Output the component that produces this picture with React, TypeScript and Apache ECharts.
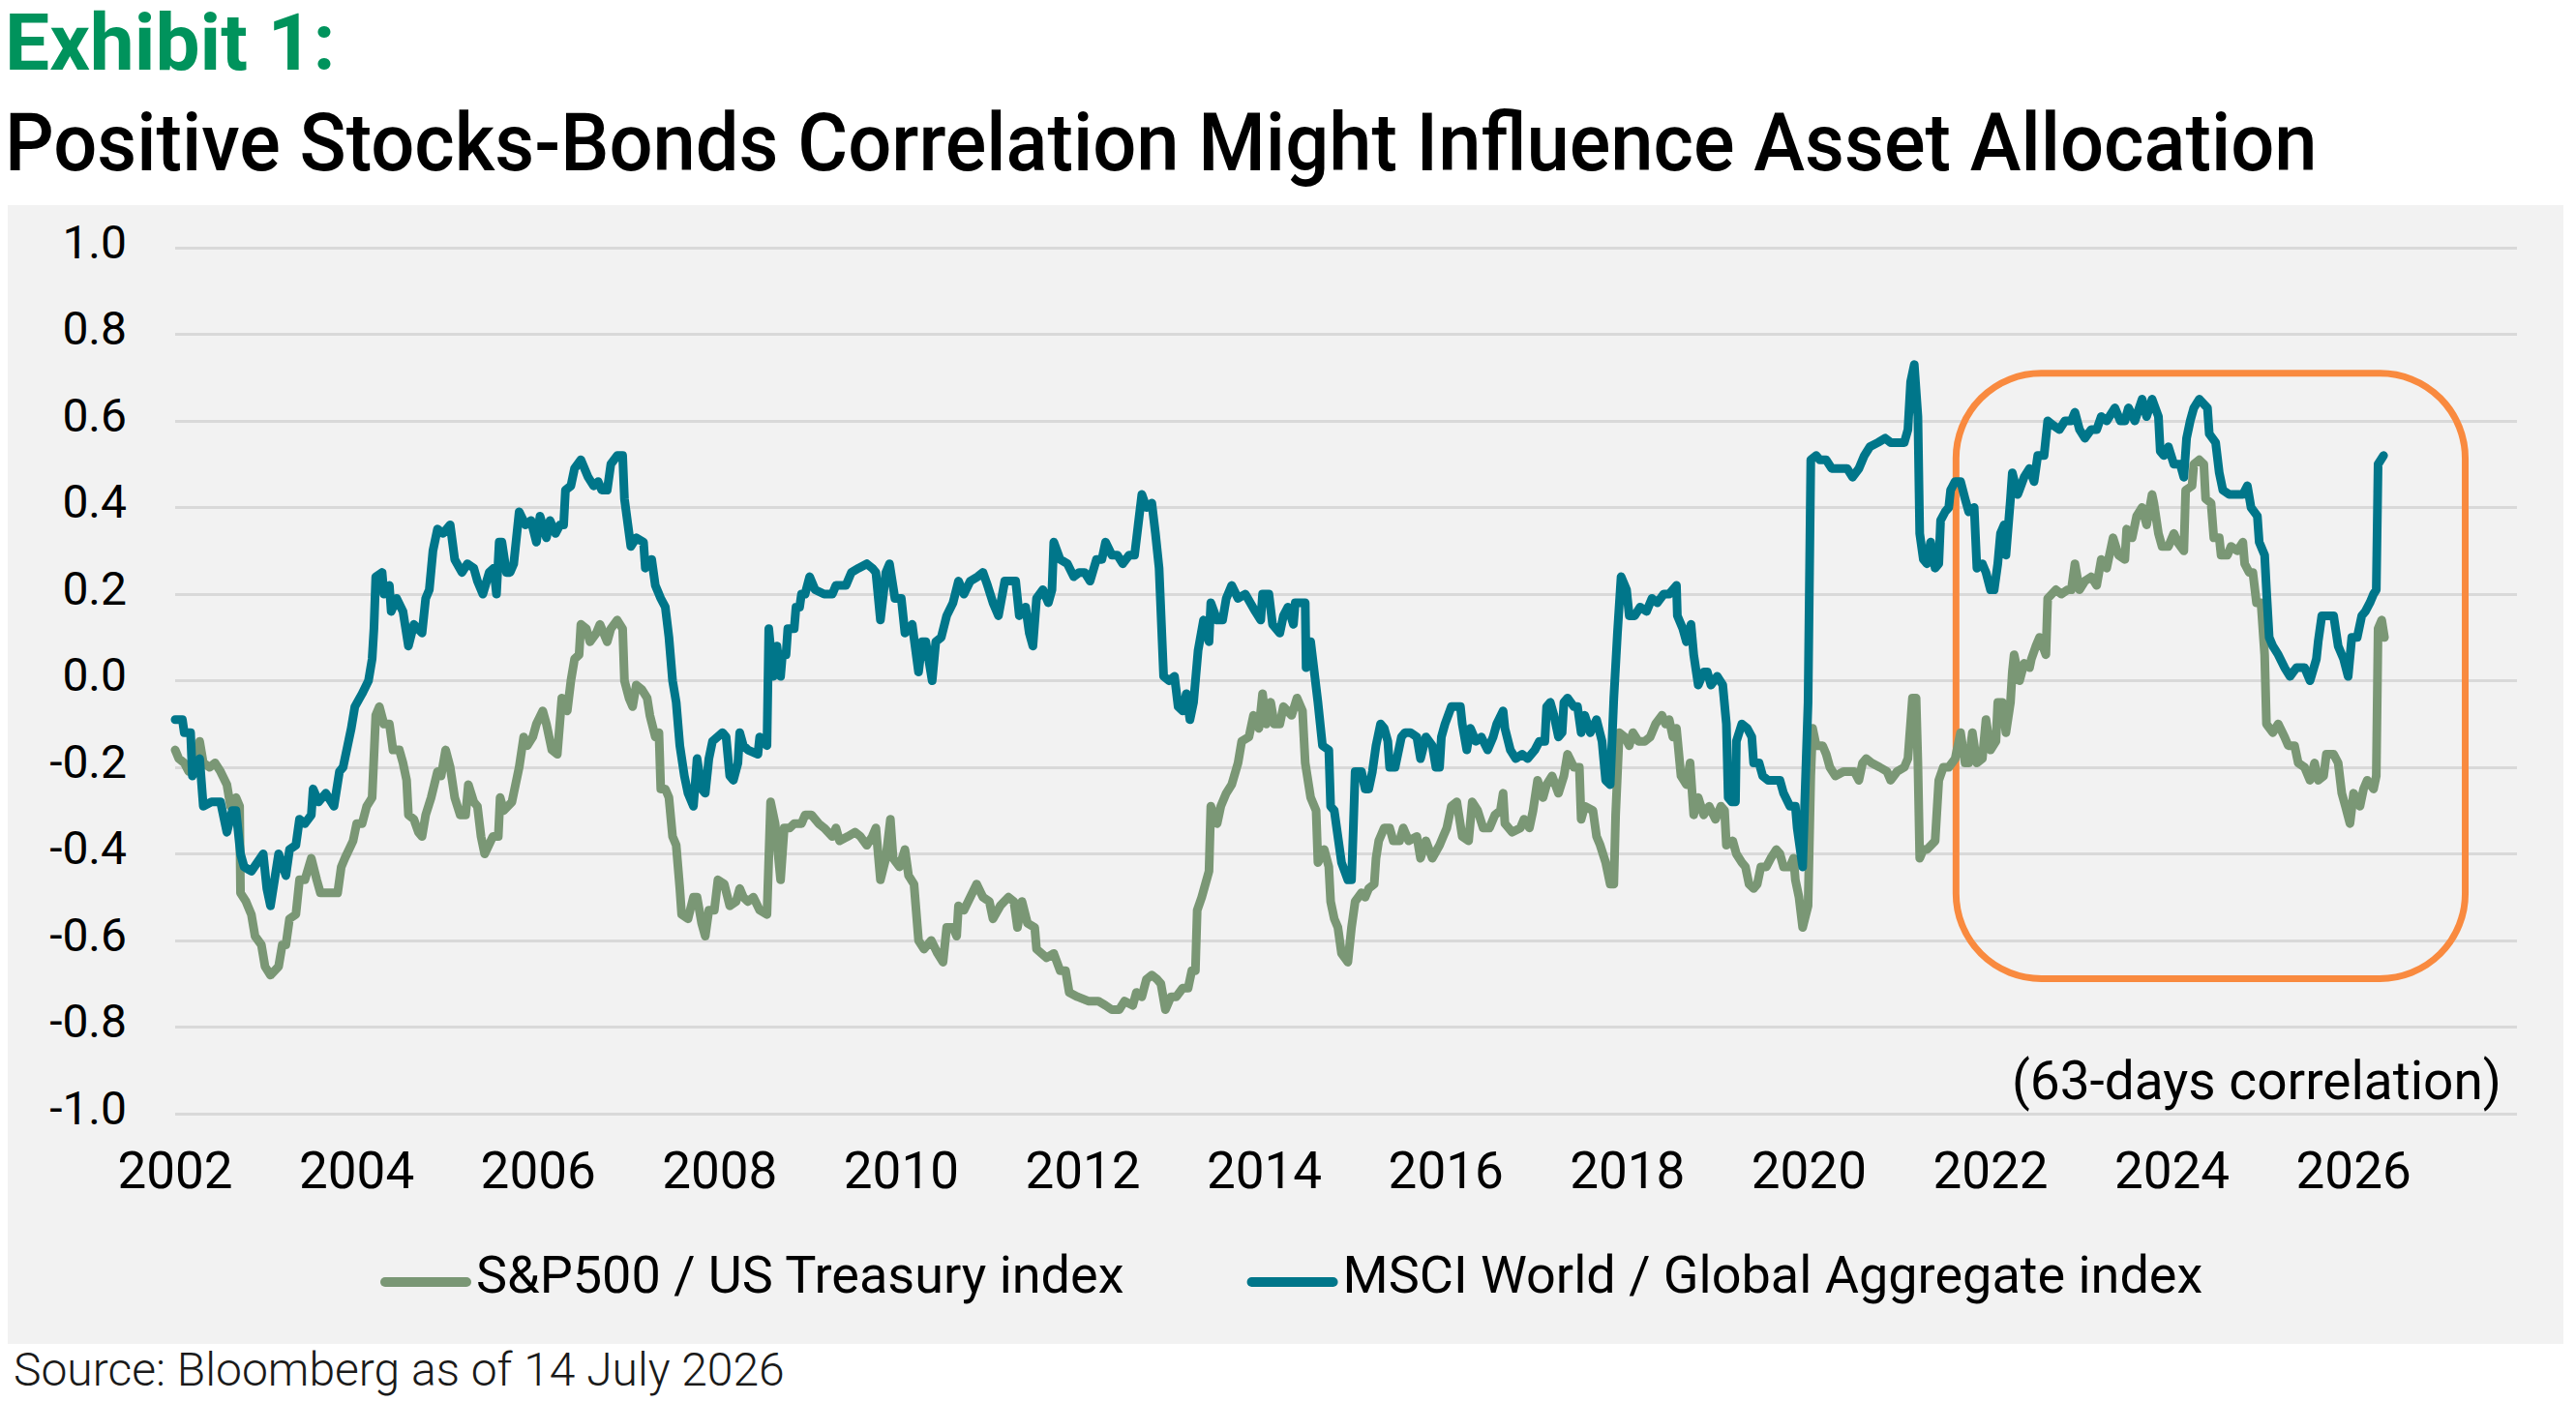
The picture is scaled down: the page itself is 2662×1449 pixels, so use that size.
import React, { useEffect, useRef } from "react";
import * as echarts from "echarts";

// ---- Data (decimal year, 63-day correlation) ----
const sp500TreasuryName = "S&P500 / US Treasury index";
const msciGlobalName = "MSCI World / Global Aggregate index";

const sp500TreasuryCorr: [number, number][] = [
[2002.00,-0.16],[2002.04,-0.18],[2002.10,-0.19],[2002.15,-0.21],[2002.21,-0.21],[2002.27,-0.14],[2002.31,-0.19],[2002.38,-0.20],[2002.44,-0.19],[2002.50,-0.21],[2002.57,-0.24],[2002.61,-0.29],[2002.67,-0.27],[2002.71,-0.29],[2002.72,-0.49],[2002.78,-0.51],[2002.84,-0.54],[2002.88,-0.59],[2002.95,-0.61],[2002.99,-0.66],[2003.05,-0.68],[2003.14,-0.66],[2003.18,-0.61],[2003.22,-0.61],[2003.26,-0.55],[2003.33,-0.54],[2003.37,-0.46],[2003.43,-0.46],[2003.50,-0.41],[2003.56,-0.46],[2003.60,-0.49],[2003.73,-0.49],[2003.79,-0.49],[2003.83,-0.43],[2003.87,-0.41],[2003.96,-0.37],[2004.00,-0.33],[2004.06,-0.33],[2004.11,-0.29],[2004.17,-0.27],[2004.21,-0.08],[2004.25,-0.06],[2004.30,-0.10],[2004.36,-0.10],[2004.40,-0.16],[2004.47,-0.16],[2004.51,-0.19],[2004.55,-0.23],[2004.57,-0.31],[2004.63,-0.32],[2004.68,-0.35],[2004.72,-0.36],[2004.76,-0.31],[2004.82,-0.27],[2004.89,-0.21],[2004.93,-0.22],[2004.98,-0.16],[2005.03,-0.20],[2005.08,-0.27],[2005.14,-0.31],[2005.20,-0.31],[2005.23,-0.24],[2005.29,-0.28],[2005.33,-0.29],[2005.37,-0.36],[2005.41,-0.40],[2005.50,-0.36],[2005.56,-0.36],[2005.58,-0.27],[2005.62,-0.30],[2005.71,-0.28],[2005.75,-0.24],[2005.79,-0.20],[2005.84,-0.13],[2005.88,-0.15],[2005.94,-0.13],[2005.98,-0.10],[2006.05,-0.07],[2006.09,-0.10],[2006.15,-0.16],[2006.21,-0.17],[2006.26,-0.04],[2006.32,-0.07],[2006.36,0.00],[2006.40,0.05],[2006.45,0.06],[2006.47,0.13],[2006.53,0.12],[2006.57,0.09],[2006.64,0.11],[2006.68,0.13],[2006.72,0.11],[2006.76,0.09],[2006.80,0.12],[2006.87,0.14],[2006.93,0.12],[2006.95,0.00],[2007.00,-0.04],[2007.04,-0.06],[2007.08,-0.01],[2007.14,-0.02],[2007.20,-0.04],[2007.23,-0.08],[2007.29,-0.13],[2007.33,-0.12],[2007.35,-0.25],[2007.40,-0.25],[2007.44,-0.27],[2007.48,-0.36],[2007.52,-0.38],[2007.56,-0.48],[2007.58,-0.54],[2007.65,-0.55],[2007.71,-0.50],[2007.75,-0.50],[2007.80,-0.56],[2007.84,-0.59],[2007.88,-0.53],[2007.94,-0.53],[2007.98,-0.46],[2008.05,-0.47],[2008.11,-0.52],[2008.18,-0.51],[2008.22,-0.48],[2008.26,-0.50],
[2008.31,-0.51],[2008.37,-0.50],[2008.44,-0.53],[2008.52,-0.54],[2008.56,-0.28],[2008.61,-0.33],[2008.67,-0.46],[2008.71,-0.34],[2008.77,-0.34],[2008.82,-0.33],[2008.90,-0.33],[2008.94,-0.31],[2009.01,-0.31],[2009.09,-0.33],[2009.15,-0.34],[2009.24,-0.36],[2009.28,-0.34],[2009.32,-0.37],[2009.41,-0.36],[2009.49,-0.35],[2009.55,-0.36],[2009.62,-0.38],[2009.68,-0.36],[2009.72,-0.34],[2009.77,-0.46],[2009.83,-0.41],[2009.88,-0.32],[2009.91,-0.41],[2009.98,-0.43],[2010.04,-0.39],[2010.08,-0.45],[2010.14,-0.47],[2010.19,-0.60],[2010.25,-0.62],[2010.33,-0.60],[2010.40,-0.63],[2010.46,-0.65],[2010.50,-0.57],[2010.57,-0.57],[2010.61,-0.59],[2010.63,-0.52],[2010.69,-0.53],[2010.76,-0.50],[2010.83,-0.47],[2010.90,-0.50],[2010.97,-0.51],[2011.01,-0.55],[2011.09,-0.52],[2011.18,-0.50],[2011.24,-0.51],[2011.28,-0.57],[2011.33,-0.51],[2011.39,-0.56],[2011.47,-0.57],[2011.49,-0.62],[2011.60,-0.64],[2011.68,-0.63],[2011.75,-0.67],[2011.81,-0.67],[2011.85,-0.72],[2011.94,-0.73],[2012.06,-0.74],[2012.17,-0.74],[2012.25,-0.75],[2012.32,-0.76],[2012.40,-0.76],[2012.46,-0.74],[2012.55,-0.75],[2012.59,-0.72],[2012.65,-0.73],[2012.70,-0.69],[2012.76,-0.68],[2012.82,-0.69],[2012.86,-0.70],[2012.91,-0.76],[2012.97,-0.73],[2013.03,-0.73],[2013.10,-0.71],[2013.16,-0.71],[2013.20,-0.67],[2013.24,-0.67],[2013.26,-0.53],[2013.31,-0.50],[2013.35,-0.47],[2013.39,-0.44],[2013.41,-0.29],[2013.48,-0.33],[2013.52,-0.29],[2013.58,-0.26],[2013.64,-0.24],[2013.71,-0.19],[2013.75,-0.14],[2013.83,-0.13],[2013.88,-0.08],[2013.94,-0.11],[2013.98,-0.03],[2014.02,-0.10],[2014.07,-0.05],[2014.11,-0.10],[2014.17,-0.10],[2014.21,-0.06],[2014.30,-0.08],[2014.36,-0.04],[2014.42,-0.07],[2014.45,-0.19],[2014.51,-0.27],[2014.57,-0.30],[2014.59,-0.42],[2014.66,-0.39],
[2014.71,-0.43],[2014.73,-0.51],[2014.77,-0.55],[2014.81,-0.57],[2014.85,-0.63],[2014.92,-0.65],[2014.96,-0.57],[2015.00,-0.51],[2015.07,-0.49],[2015.11,-0.50],[2015.15,-0.48],[2015.21,-0.47],[2015.23,-0.41],[2015.26,-0.37],[2015.32,-0.34],[2015.38,-0.34],[2015.42,-0.37],[2015.49,-0.37],[2015.53,-0.34],[2015.59,-0.37],[2015.68,-0.36],[2015.72,-0.41],[2015.78,-0.37],[2015.85,-0.41],[2015.93,-0.38],[2015.97,-0.36],[2016.01,-0.34],[2016.06,-0.29],[2016.12,-0.28],[2016.18,-0.36],[2016.25,-0.37],[2016.29,-0.28],[2016.35,-0.30],[2016.41,-0.34],[2016.48,-0.34],[2016.54,-0.31],[2016.60,-0.30],[2016.63,-0.26],[2016.65,-0.33],[2016.73,-0.35],[2016.82,-0.34],[2016.86,-0.32],[2016.92,-0.34],[2016.96,-0.30],[2017.01,-0.23],[2017.07,-0.27],[2017.11,-0.24],[2017.17,-0.22],[2017.24,-0.26],[2017.30,-0.22],[2017.34,-0.17],[2017.41,-0.20],[2017.47,-0.20],[2017.49,-0.32],[2017.53,-0.29],[2017.62,-0.30],[2017.66,-0.36],[2017.70,-0.38],[2017.76,-0.42],[2017.81,-0.47],[2017.85,-0.47],[2017.87,-0.31],[2017.91,-0.12],[2017.97,-0.13],[2018.02,-0.15],[2018.06,-0.12],[2018.12,-0.14],[2018.19,-0.14],[2018.25,-0.13],[2018.31,-0.10],[2018.38,-0.08],[2018.42,-0.10],[2018.46,-0.09],[2018.50,-0.13],[2018.54,-0.11],[2018.59,-0.22],[2018.65,-0.24],[2018.69,-0.19],[2018.73,-0.31],[2018.78,-0.27],[2018.84,-0.31],[2018.90,-0.29],[2018.97,-0.32],[2019.03,-0.29],[2019.07,-0.30],[2019.09,-0.38],[2019.16,-0.37],[2019.20,-0.40],[2019.26,-0.42],[2019.30,-0.43],[2019.34,-0.47],[2019.39,-0.48],[2019.43,-0.47],[2019.47,-0.43],[2019.53,-0.43],[2019.58,-0.41],[2019.64,-0.39],[2019.68,-0.40],[2019.72,-0.43],[2019.79,-0.43],[2019.83,-0.41],[2019.85,-0.46],[2019.89,-0.50],[2019.93,-0.57],[2019.99,-0.52],[2020.02,-0.22],[2020.04,-0.11],[2020.08,-0.15],[2020.15,-0.15],[2020.19,-0.17],[2020.23,-0.20],[2020.29,-0.22],[2020.38,-0.21],[2020.44,-0.21],[2020.50,-0.21],[2020.55,-0.23],[2020.59,-0.19],[2020.63,-0.18],[2020.69,-0.19],[2020.78,-0.20],[2020.86,-0.21],[2020.90,-0.23],[2020.97,-0.21],[2021.05,-0.20],[2021.09,-0.18],[2021.14,-0.04],[2021.18,-0.04],[2021.20,-0.19],[2021.22,-0.41],[2021.26,-0.39],
[2021.30,-0.39],[2021.39,-0.37],[2021.43,-0.23],[2021.48,-0.20],[2021.54,-0.20],[2021.61,-0.18],[2021.67,-0.12],[2021.72,-0.19],[2021.76,-0.19],[2021.80,-0.12],[2021.85,-0.19],[2021.91,-0.18],[2021.95,-0.09],[2022.00,-0.16],[2022.06,-0.14],[2022.08,-0.05],[2022.13,-0.05],[2022.17,-0.12],[2022.22,-0.05],[2022.24,0.02],[2022.26,0.06],[2022.32,0.00],[2022.37,0.04],[2022.43,0.03],[2022.45,0.05],[2022.50,0.08],[2022.54,0.10],[2022.61,0.06],[2022.63,0.19],[2022.72,0.21],[2022.78,0.20],[2022.85,0.21],[2022.89,0.21],[2022.93,0.27],[2022.98,0.21],[2023.04,0.23],[2023.11,0.24],[2023.17,0.22],[2023.22,0.28],[2023.28,0.26],[2023.35,0.33],[2023.41,0.29],[2023.48,0.28],[2023.50,0.35],[2023.56,0.33],[2023.61,0.38],[2023.67,0.40],[2023.72,0.36],[2023.78,0.43],[2023.80,0.41],[2023.85,0.34],[2023.89,0.31],[2023.96,0.31],[2024.02,0.34],[2024.06,0.32],[2024.13,0.30],[2024.15,0.44],[2024.22,0.45],[2024.24,0.50],[2024.30,0.51],[2024.35,0.50],[2024.37,0.42],[2024.43,0.41],[2024.46,0.33],[2024.52,0.33],[2024.54,0.29],[2024.61,0.29],[2024.65,0.31],[2024.72,0.30],[2024.78,0.32],[2024.80,0.27],[2024.85,0.25],[2024.89,0.25],[2024.93,0.18],[2024.98,0.18],[2025.02,0.06],[2025.04,-0.10],[2025.11,-0.12],[2025.17,-0.10],[2025.24,-0.13],[2025.28,-0.15],[2025.35,-0.15],[2025.39,-0.19],[2025.46,-0.20],[2025.52,-0.23],[2025.57,-0.19],[2025.61,-0.23],[2025.67,-0.22],[2025.70,-0.17],[2025.78,-0.17],[2025.83,-0.19],[2025.87,-0.26],[2025.91,-0.29],[2025.96,-0.33],[2026.00,-0.26],[2026.07,-0.29],[2026.11,-0.25],[2026.15,-0.23],[2026.22,-0.25],[2026.25,-0.22],[2026.27,0.12],[2026.31,0.14],[2026.34,0.10]
];

const msciGlobalCorr: [number, number][] = [
[2002.00,-0.09],[2002.08,-0.09],[2002.10,-0.12],[2002.17,-0.12],[2002.19,-0.22],[2002.27,-0.18],[2002.31,-0.29],[2002.40,-0.28],[2002.50,-0.28],[2002.57,-0.35],[2002.63,-0.30],[2002.67,-0.30],[2002.72,-0.40],[2002.76,-0.43],[2002.84,-0.44],[2002.97,-0.40],[2003.01,-0.48],[2003.05,-0.52],[2003.14,-0.40],[2003.22,-0.45],[2003.26,-0.39],[2003.33,-0.38],[2003.37,-0.32],[2003.43,-0.33],[2003.50,-0.31],[2003.52,-0.25],[2003.58,-0.28],[2003.66,-0.26],[2003.75,-0.29],[2003.81,-0.21],[2003.85,-0.20],[2003.90,-0.15],[2003.94,-0.11],[2003.98,-0.06],[2004.06,-0.03],[2004.13,0.00],[2004.17,0.05],[2004.19,0.12],[2004.21,0.24],[2004.28,0.25],[2004.30,0.20],[2004.36,0.22],[2004.38,0.16],[2004.44,0.19],[2004.51,0.16],[2004.57,0.08],[2004.63,0.13],[2004.72,0.11],[2004.76,0.19],[2004.80,0.21],[2004.84,0.30],[2004.89,0.35],[2004.95,0.34],[2005.03,0.36],[2005.08,0.28],[2005.16,0.25],[2005.22,0.27],[2005.29,0.26],[2005.33,0.23],[2005.39,0.20],[2005.46,0.25],[2005.51,0.26],[2005.54,0.20],[2005.57,0.32],[2005.60,0.32],[2005.65,0.25],[2005.69,0.25],[2005.73,0.27],[2005.79,0.39],[2005.86,0.36],[2005.92,0.37],[2005.98,0.32],[2006.02,0.38],[2006.09,0.33],[2006.13,0.37],[2006.19,0.34],[2006.24,0.36],[2006.28,0.36],[2006.30,0.44],[2006.36,0.45],[2006.40,0.49],[2006.47,0.51],[2006.55,0.47],[2006.61,0.45],[2006.66,0.46],[2006.70,0.44],[2006.76,0.44],[2006.80,0.50],[2006.87,0.52],[2006.93,0.52],[2006.95,0.42],[2007.02,0.31],[2007.08,0.33],[2007.16,0.32],[2007.18,0.26],[2007.25,0.28],[2007.29,0.22],[2007.35,0.19],[2007.40,0.17],[2007.44,0.10],[2007.48,0.00],[2007.52,-0.05],[2007.56,-0.15],[2007.61,-0.22],[2007.65,-0.26],[2007.71,-0.29],[2007.75,-0.18],[2007.80,-0.25],[2007.84,-0.26],[2007.88,-0.18],[2007.92,-0.14],[2008.03,-0.12],[2008.07,-0.13],[2008.11,-0.22],[2008.15,-0.23],[2008.20,-0.19],[2008.22,-0.12],[2008.26,-0.15],
[2008.31,-0.16],[2008.42,-0.17],[2008.44,-0.13],[2008.52,-0.15],[2008.54,0.12],[2008.59,0.01],[2008.63,0.08],[2008.67,0.01],[2008.69,0.06],[2008.73,0.06],[2008.75,0.12],[2008.82,0.12],[2008.84,0.17],[2008.88,0.17],[2008.90,0.20],[2008.94,0.20],[2008.99,0.24],[2009.05,0.21],[2009.15,0.20],[2009.24,0.20],[2009.28,0.22],[2009.39,0.22],[2009.45,0.25],[2009.53,0.26],[2009.62,0.27],[2009.68,0.26],[2009.72,0.25],[2009.77,0.14],[2009.83,0.25],[2009.87,0.27],[2009.93,0.19],[2010.00,0.19],[2010.04,0.11],[2010.12,0.13],[2010.19,0.02],[2010.23,0.09],[2010.27,0.09],[2010.34,0.00],[2010.38,0.09],[2010.44,0.10],[2010.50,0.15],[2010.57,0.18],[2010.63,0.23],[2010.69,0.20],[2010.76,0.23],[2010.84,0.24],[2010.90,0.25],[2010.95,0.22],[2011.01,0.18],[2011.07,0.15],[2011.14,0.23],[2011.22,0.23],[2011.26,0.23],[2011.30,0.15],[2011.37,0.17],[2011.41,0.11],[2011.45,0.08],[2011.49,0.19],[2011.56,0.21],[2011.62,0.18],[2011.66,0.21],[2011.68,0.32],[2011.75,0.28],[2011.83,0.27],[2011.90,0.24],[2011.96,0.25],[2012.02,0.25],[2012.08,0.23],[2012.15,0.28],[2012.21,0.28],[2012.25,0.32],[2012.32,0.29],[2012.38,0.29],[2012.44,0.27],[2012.51,0.29],[2012.57,0.29],[2012.61,0.36],[2012.65,0.43],[2012.70,0.40],[2012.76,0.41],[2012.80,0.34],[2012.84,0.26],[2012.89,0.01],[2012.95,0.00],[2013.01,0.01],[2013.05,-0.06],[2013.10,-0.07],[2013.14,-0.03],[2013.18,-0.09],[2013.22,-0.05],[2013.27,0.07],[2013.33,0.14],[2013.39,0.09],[2013.41,0.18],[2013.48,0.14],[2013.54,0.14],[2013.58,0.19],[2013.64,0.22],[2013.71,0.19],[2013.79,0.20],[2013.90,0.16],[2013.96,0.14],[2013.98,0.20],[2014.05,0.20],[2014.09,0.13],[2014.17,0.11],[2014.21,0.15],[2014.26,0.17],[2014.32,0.13],[2014.34,0.18],[2014.45,0.18],[2014.46,0.03],[2014.51,0.09],[2014.55,0.02],[2014.59,-0.05],[2014.64,-0.15],
[2014.71,-0.16],[2014.73,-0.29],[2014.77,-0.30],[2014.81,-0.36],[2014.85,-0.42],[2014.92,-0.46],[2014.96,-0.46],[2014.98,-0.34],[2015.00,-0.21],[2015.07,-0.21],[2015.11,-0.25],[2015.15,-0.25],[2015.19,-0.21],[2015.23,-0.15],[2015.28,-0.10],[2015.32,-0.11],[2015.36,-0.14],[2015.38,-0.20],[2015.44,-0.20],[2015.51,-0.13],[2015.55,-0.12],[2015.61,-0.12],[2015.68,-0.13],[2015.72,-0.18],[2015.78,-0.13],[2015.85,-0.15],[2015.89,-0.20],[2015.93,-0.20],[2015.95,-0.13],[2015.99,-0.10],[2016.06,-0.06],[2016.16,-0.06],[2016.18,-0.10],[2016.23,-0.16],[2016.27,-0.11],[2016.33,-0.14],[2016.39,-0.13],[2016.46,-0.16],[2016.52,-0.13],[2016.56,-0.10],[2016.63,-0.07],[2016.65,-0.11],[2016.71,-0.16],[2016.77,-0.18],[2016.84,-0.17],[2016.90,-0.18],[2016.98,-0.16],[2017.03,-0.14],[2017.09,-0.14],[2017.11,-0.06],[2017.15,-0.05],[2017.19,-0.08],[2017.24,-0.13],[2017.28,-0.12],[2017.30,-0.05],[2017.34,-0.04],[2017.41,-0.06],[2017.45,-0.06],[2017.49,-0.12],[2017.53,-0.08],[2017.59,-0.12],[2017.66,-0.09],[2017.72,-0.14],[2017.76,-0.23],[2017.81,-0.24],[2017.85,-0.04],[2017.89,0.11],[2017.93,0.24],[2017.99,0.21],[2018.02,0.15],[2018.08,0.15],[2018.14,0.17],[2018.21,0.16],[2018.27,0.19],[2018.33,0.18],[2018.40,0.20],[2018.46,0.20],[2018.54,0.22],[2018.55,0.15],[2018.61,0.12],[2018.65,0.09],[2018.70,0.13],[2018.73,0.06],[2018.78,-0.01],[2018.84,0.02],[2018.88,0.02],[2018.92,-0.01],[2018.99,0.01],[2019.05,-0.01],[2019.09,-0.10],[2019.11,-0.27],[2019.15,-0.28],[2019.19,-0.28],[2019.20,-0.14],[2019.26,-0.10],[2019.32,-0.11],[2019.37,-0.13],[2019.39,-0.19],[2019.45,-0.19],[2019.49,-0.22],[2019.55,-0.23],[2019.68,-0.23],[2019.72,-0.26],[2019.79,-0.29],[2019.85,-0.29],[2019.87,-0.34],[2019.93,-0.43],[2019.99,-0.05],[2020.02,0.51],[2020.08,0.52],[2020.12,0.51],[2020.19,0.51],[2020.25,0.49],[2020.34,0.49],[2020.42,0.49],[2020.48,0.47],[2020.55,0.49],[2020.61,0.52],[2020.67,0.54],[2020.76,0.55],[2020.84,0.56],[2020.90,0.55],[2020.99,0.55],[2021.05,0.55],[2021.09,0.58],[2021.12,0.69],[2021.16,0.73],[2021.20,0.61],[2021.22,0.34],[2021.26,0.28],
[2021.30,0.27],[2021.34,0.32],[2021.39,0.26],[2021.43,0.27],[2021.45,0.37],[2021.50,0.39],[2021.54,0.40],[2021.56,0.44],[2021.61,0.46],[2021.67,0.46],[2021.72,0.42],[2021.76,0.39],[2021.82,0.40],[2021.85,0.26],[2021.91,0.27],[2021.95,0.25],[2022.00,0.21],[2022.04,0.21],[2022.08,0.27],[2022.11,0.34],[2022.15,0.36],[2022.17,0.29],[2022.22,0.42],[2022.24,0.48],[2022.30,0.43],[2022.37,0.47],[2022.43,0.49],[2022.48,0.46],[2022.52,0.52],[2022.59,0.52],[2022.63,0.60],[2022.69,0.59],[2022.76,0.58],[2022.82,0.60],[2022.89,0.60],[2022.93,0.62],[2022.98,0.58],[2023.04,0.56],[2023.11,0.58],[2023.17,0.58],[2023.22,0.61],[2023.28,0.60],[2023.37,0.63],[2023.43,0.60],[2023.48,0.60],[2023.52,0.63],[2023.59,0.60],[2023.67,0.65],[2023.72,0.61],[2023.78,0.65],[2023.85,0.61],[2023.87,0.53],[2023.91,0.52],[2023.96,0.54],[2024.02,0.50],[2024.09,0.50],[2024.13,0.47],[2024.16,0.56],[2024.20,0.60],[2024.24,0.63],[2024.30,0.65],[2024.39,0.63],[2024.41,0.57],[2024.48,0.55],[2024.52,0.48],[2024.56,0.44],[2024.63,0.43],[2024.72,0.43],[2024.78,0.43],[2024.83,0.45],[2024.87,0.40],[2024.94,0.38],[2024.96,0.32],[2025.02,0.29],[2025.04,0.21],[2025.07,0.10],[2025.11,0.08],[2025.17,0.06],[2025.24,0.03],[2025.30,0.01],[2025.37,0.03],[2025.46,0.03],[2025.52,0.00],[2025.59,0.05],[2025.61,0.09],[2025.65,0.15],[2025.72,0.15],[2025.78,0.15],[2025.83,0.08],[2025.89,0.05],[2025.94,0.01],[2025.98,0.10],[2026.04,0.10],[2026.09,0.15],[2026.13,0.16],[2026.18,0.18],[2026.22,0.20],[2026.25,0.21],[2026.27,0.50],[2026.33,0.52]
];

// Axis ranges / ticks
const xMin = 2002;
const xMax = 2027.8;
const xInterval = 2;
const yMin = -1;
const yMax = 1;
const yInterval = 0.2;

// Highlight box (data coordinates: [x0, y0], [x1, y1])
const highlightBoxFrom: [number, number] = [2021.62, 0.71];
const highlightBoxTo: [number, number] = [2027.23, -0.688];

const exhibitLabel = "Exhibit 1:";
const titleText = "Positive Stocks-Bonds Correlation Might Influence Asset Allocation";
const noteText = "(63-days correlation)";
const sourceText = "Source: Bloomberg as of 14 July 2026";

const GREEN = "#7A9775";
const TEAL = "#00768A";
const FONT = "Roboto, 'Noto Sans', sans-serif";

export default function App() {
  const ref = useRef<HTMLDivElement>(null);

  useEffect(() => {
    document.body.style.margin = "0";
    const el = ref.current!;
    const chart = echarts.init(el, null, { renderer: "svg" });

    chart.setOption({
      animation: false,
      backgroundColor: "#ffffff",
      textStyle: { fontFamily: FONT },
      grid: { left: 181, right: 61, top: 256, bottom: 298, containLabel: false },
      xAxis: {
        type: "value",
        min: xMin,
        max: xMax,
        interval: xInterval,
        axisLine: { show: false },
        axisTick: { show: false },
        splitLine: { show: false },
        axisLabel: {
          color: "#000",
          fontSize: 53,
          fontFamily: FONT,
          margin: 32,
          formatter: (v: number) => (Math.abs(v - Math.round(v)) < 1e-6 ? String(Math.round(v)) : ""),
        },
      },
      yAxis: {
        type: "value",
        min: yMin,
        max: yMax,
        interval: yInterval,
        axisLine: { show: false },
        axisTick: { show: false },
        splitLine: { show: true, lineStyle: { color: "#d9d9d9", width: 3 } },
        axisLabel: {
          color: "#000",
          fontSize: 48,
          fontFamily: FONT,
          margin: 50,
          verticalAlign: "bottom",
          lineHeight: 12,
          formatter: (v: number) => (Math.abs(v) < 1e-9 ? 0 : v).toFixed(1),
        },
      },
      legend: {
        data: [sp500TreasuryName, msciGlobalName],
        left: 393,
        top: 1290,
        padding: 0,
        itemGap: 126,
        itemWidth: 94,
        itemHeight: 26,
        icon: "path://M0,0 M5,16 L89,16 A5,5 0 0 1 89,26 L5,26 A5,5 0 0 1 5,16 Z",
        textStyle: { color: "#000", fontSize: 54, fontFamily: FONT },
      },
      series: [
        {
          name: sp500TreasuryName,
          type: "line",
          data: sp500TreasuryCorr,
          showSymbol: false,
          symbol: "none",
          z: 2,
          lineStyle: { color: GREEN, width: 9, cap: "round", join: "round" },
          itemStyle: { color: GREEN },
        },
        {
          name: msciGlobalName,
          type: "line",
          data: msciGlobalCorr,
          showSymbol: false,
          symbol: "none",
          z: 3,
          lineStyle: { color: TEAL, width: 9, cap: "round", join: "round" },
          itemStyle: { color: TEAL },
        },
      ],
    });

    const p0 = chart.convertToPixel({ gridIndex: 0 }, highlightBoxFrom) as number[];
    const p1 = chart.convertToPixel({ gridIndex: 0 }, highlightBoxTo) as number[];

    chart.setOption({
      graphic: [
        {
          type: "rect",
          z: -10,
          silent: true,
          shape: { x: 8, y: 212, width: 2641, height: 1177 },
          style: { fill: "#f2f2f2" },
        },
        {
          type: "rect",
          z: 1,
          silent: true,
          shape: {
            x: Math.min(p0[0], p1[0]),
            y: Math.min(p0[1], p1[1]),
            width: Math.abs(p1[0] - p0[0]),
            height: Math.abs(p1[1] - p0[1]),
            r: 88,
          },
          style: { fill: "none", stroke: "#F98A3F", lineWidth: 7 },
        },
        {
          type: "text",
          x: 5,
          y: 44,
          z: 5,
          style: {
            text: exhibitLabel,
            fontSize: 82,
            fontWeight: "bold",
            fontFamily: FONT,
            fill: "#00935C",
            align: "left",
            verticalAlign: "middle",
          },
        },
        {
          type: "text",
          x: 5,
          y: 148,
          z: 5,
          scaleX: 0.958,
          style: {
            text: titleText,
            fontSize: 83,
            fontWeight: 500,
            fontFamily: FONT,
            fill: "#000",
            align: "left",
            verticalAlign: "middle",
          },
        },
        {
          type: "text",
          x: 2585,
          y: 1117,
          z: 5,
          style: {
            text: noteText,
            fontSize: 55,
            fontFamily: FONT,
            fill: "#000",
            align: "right",
            verticalAlign: "middle",
          },
        },
        {
          type: "text",
          x: 14,
          y: 1415,
          z: 5,
          style: {
            text: sourceText,
            fontSize: 48,
            fontWeight: 300,
            fontFamily: FONT,
            fill: "#1a1a1a",
            align: "left",
            verticalAlign: "middle",
          },
        },
      ],
    });

    return () => {
      chart.dispose();
    };
  }, []);

  return <div ref={ref} style={{ width: "2662px", height: "1449px" }} />;
}
